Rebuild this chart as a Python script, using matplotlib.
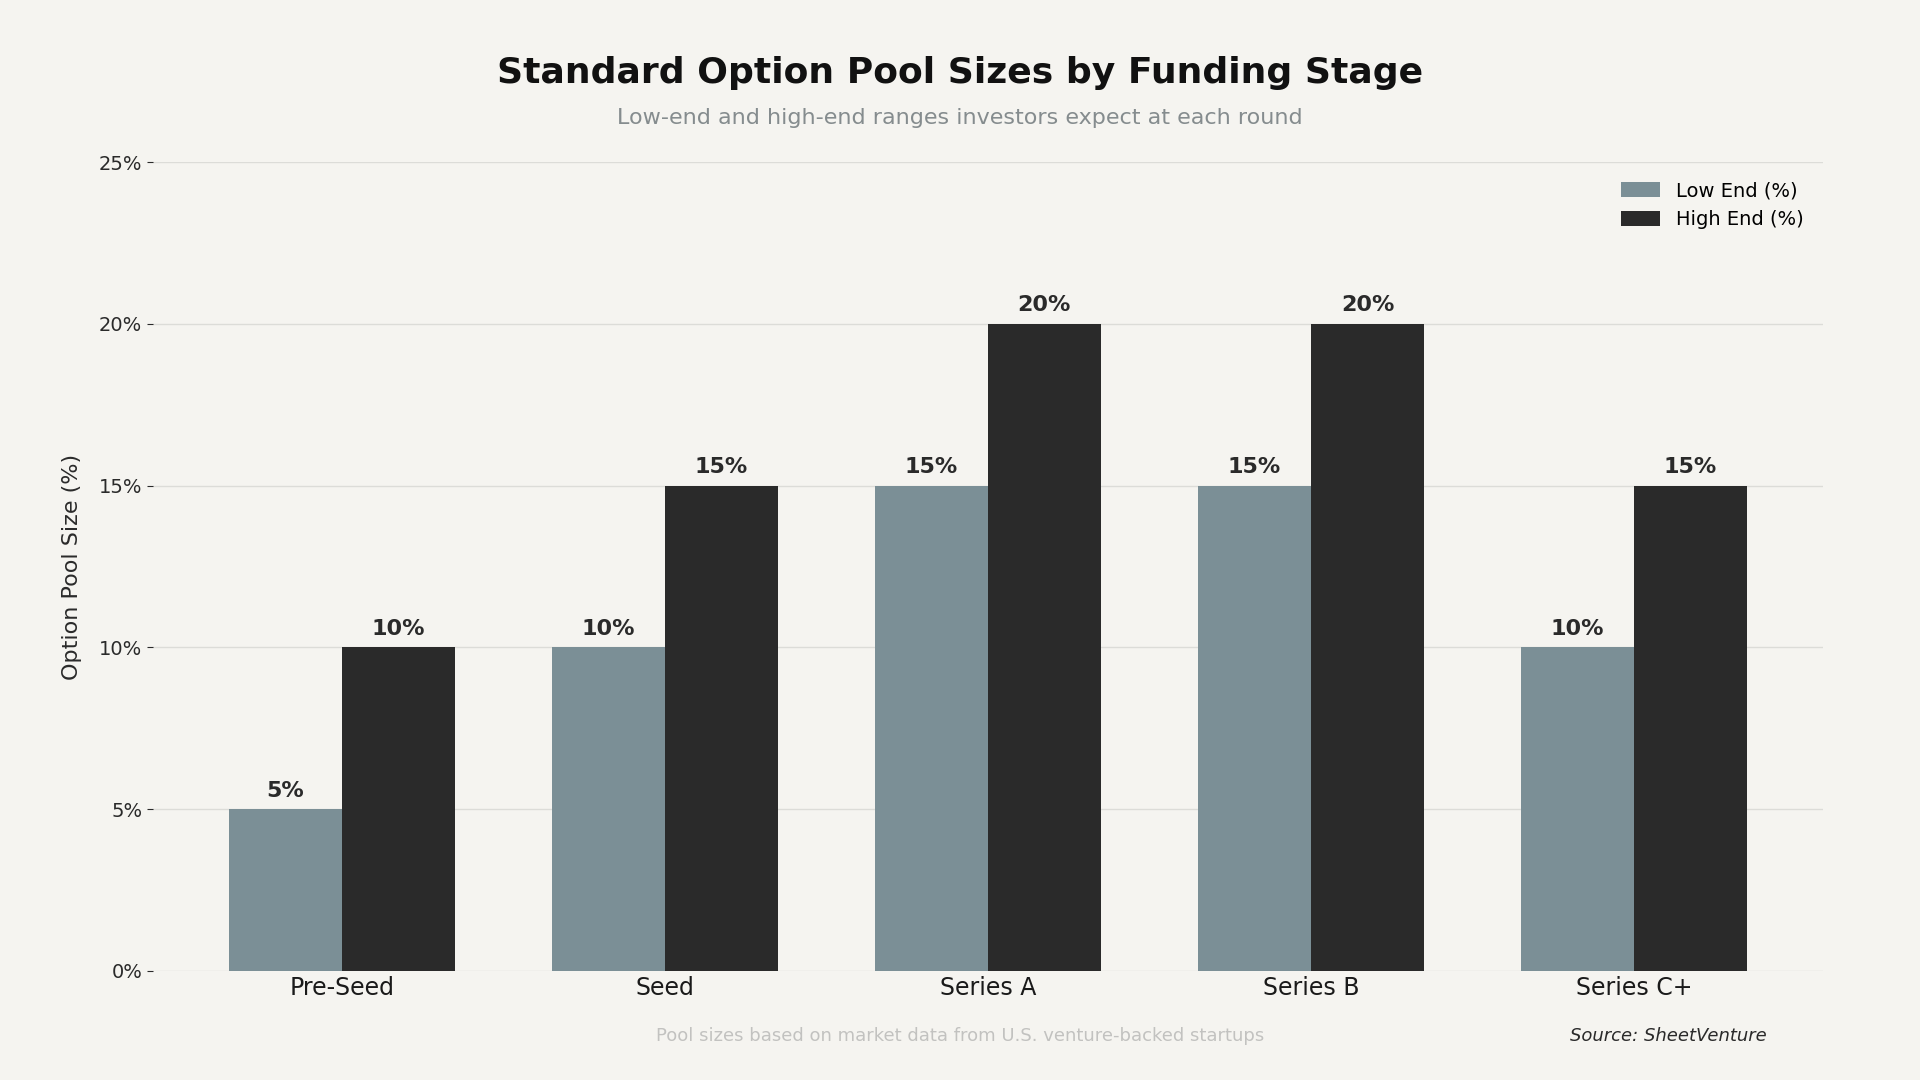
import numpy as np
import matplotlib
matplotlib.use("Agg")
import matplotlib.pyplot as plt
from matplotlib.ticker import FuncFormatter

# ── Data ────────────────────────────────────────────────────────────────────
stages    = ["Pre-Seed", "Seed", "Series A", "Series B", "Series C+"]
low_end   = [5, 10, 15, 15, 10]
high_end  = [10, 15, 20, 20, 15]
y_ticks   = [0, 5, 10, 15, 20, 25]

BG    = "#f5f4f0"
LOW   = "#7b8f96"
HIGH  = "#2a2a2a"

fig = plt.figure(figsize=(19.2, 10.8), dpi=100, facecolor=BG)
ax  = fig.add_axes([0.0795, 0.101, 0.870, 0.749], facecolor=BG)

x = np.arange(len(stages))
w = 0.35
b1 = ax.bar(x - w / 2, low_end,  w, color=LOW,  label="Low End (%)",  zorder=3)
b2 = ax.bar(x + w / 2, high_end, w, color=HIGH, label="High End (%)", zorder=3)

for bars in (b1, b2):
    for rect in bars:
        ax.annotate(f"{rect.get_height():.0f}%",
                    (rect.get_x() + rect.get_width() / 2, rect.get_height()),
                    xytext=(0, 6), textcoords="offset points",
                    ha="center", va="bottom", fontsize=16,
                    fontweight="bold", color="#2a2a2a")

ax.set_ylim(0, 25)
ax.set_yticks(y_ticks)
ax.yaxis.set_major_formatter(FuncFormatter(lambda v, _: f"{v:.0f}%"))
ax.set_xticks(x)
ax.set_xticklabels(stages, fontsize=17, color="#1a1a1a")
ax.tick_params(axis="y", labelsize=14, colors="#2a2a2a", length=4, width=0.8)
ax.tick_params(axis="x", length=0, pad=4)
ax.grid(axis="y", color="#dcdcd8", linewidth=1.0, zorder=0)
for s in ax.spines.values():
    s.set_visible(False)

ax.set_ylabel("Option Pool Size (%)", fontsize=16, color="#2a2a2a", labelpad=12)

ax.legend(loc="upper right", frameon=False, fontsize=14,
          handlelength=2.0, handleheight=0.8, borderaxespad=0.6)

fig.text(0.5, 0.932, "Standard Option Pool Sizes by Funding Stage",
         ha="center", va="center", fontsize=26, fontweight="bold", color="#111111")
fig.text(0.5, 0.891, "Low-end and high-end ranges investors expect at each round",
         ha="center", va="center", fontsize=16, color="#858c8e")
fig.text(0.5, 0.041, "Pool sizes based on market data from U.S. venture-backed startups",
         ha="center", va="center", fontsize=13, color="#c2c2c0")
fig.text(0.920, 0.041, "Source: SheetVenture",
         ha="right", va="center", fontsize=13, style="italic", color="#2a2a2a")

fig.savefig("out.png", dpi=100, facecolor=BG)
